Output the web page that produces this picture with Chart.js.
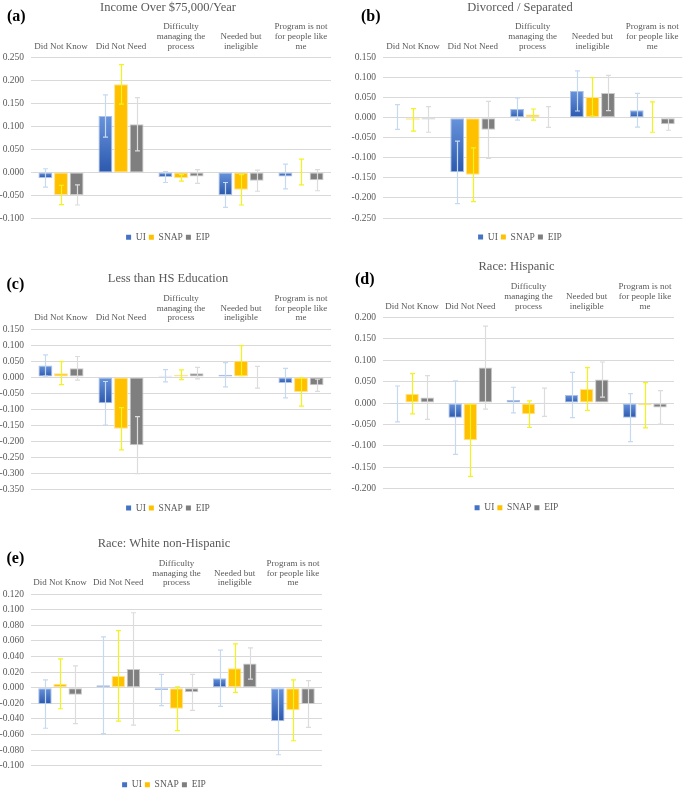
<!DOCTYPE html>
<html>
<head>
<meta charset="utf-8">
<script src="https://cdn.jsdelivr.net/npm/chart.js@4.4.1/dist/chart.umd.min.js"></script>
<style>
  html, body { margin: 0; padding: 0; background: #fff; overflow: hidden; }
  body { position: relative; width: 685px; height: 789px; }
  canvas { position: absolute; }
  .tag { position: absolute; font: bold 16px "Liberation Serif", serif; color: #000; line-height: 16px; }
</style>
</head>
<body>
<script>
const categories = [
  ["Did Not Know"],
  ["Did Not Need"],
  ["Difficulty", "managing the", "process"],
  ["Needed but", "ineligible"],
  ["Program is not", "for people like", "me"]
]
const seriesNames = ["UI", "SNAP", "EIP"]

// (a) Income Over $75,000/Year
const incomeUI = [-0.012, 0.123, -0.010, -0.049, -0.009]
const incomeUIErr = [0.020, 0.046, 0.012, 0.027, 0.027]
const incomeSNAP = [-0.049, 0.192, -0.012, -0.038, 0.001]
const incomeSNAPErr = [0.021, 0.043, 0.007, 0.033, 0.028]
const incomeEIP = [-0.049, 0.105, -0.009, -0.018, -0.017]
const incomeEIPErr = [0.022, 0.058, 0.015, 0.023, 0.023]

// (b) Divorced / Separated
const divorcedUI = [0.002, -0.136, 0.022, 0.067, 0.019]
const divorcedUIErr = [0.031, 0.078, 0.028, 0.050, 0.042]
const divorcedSNAP = [-0.005, -0.142, 0.008, 0.052, 0.002]
const divorcedSNAPErr = [0.028, 0.067, 0.014, 0.048, 0.038]
const divorcedEIP = [-0.004, -0.030, 0.002, 0.062, -0.016]
const divorcedEIPErr = [0.032, 0.071, 0.026, 0.044, 0.015]

// (c) Less than HS Education
const lessHsUI = [0.036, -0.082, 0.004, 0.007, -0.019]
const lessHsUIErr = [0.033, 0.068, 0.019, 0.038, 0.046]
const lessHsSNAP = [0.012, -0.162, 0.007, 0.051, -0.047]
const lessHsSNAPErr = [0.036, 0.066, 0.015, 0.047, 0.044]
const lessHsEIP = [0.027, -0.213, 0.012, -0.001, -0.026]
const lessHsEIPErr = [0.037, 0.089, 0.018, 0.034, 0.019]

// (d) Race: Hispanic
const hispanicUI = [-0.002, -0.034, 0.007, 0.019, -0.034]
const hispanicUIErr = [0.042, 0.086, 0.030, 0.053, 0.056]
const hispanicSNAP = [0.022, -0.087, -0.026, 0.033, -0.005]
const hispanicSNAPErr = [0.047, 0.084, 0.031, 0.050, 0.053]
const hispanicEIP = [0.013, 0.083, 0.002, 0.055, -0.010]
const hispanicEIPErr = [0.051, 0.097, 0.033, 0.041, 0.039]

// (e) Race: White non-Hispanic
const whiteUI = [-0.021, 0.003, -0.003, 0.012, -0.043]
const whiteUIErr = [0.031, 0.062, 0.020, 0.036, 0.043]
const whiteSNAP = [0.005, 0.015, -0.027, 0.025, -0.029]
const whiteSNAPErr = [0.032, 0.058, 0.028, 0.031, 0.039]
const whiteEIP = [-0.009, 0.024, -0.006, 0.031, -0.021]
const whiteEIPErr = [0.037, 0.072, 0.023, 0.020, 0.030]

// axis ranges: [min, max, step]
const incomeTicks = [-0.1, 0.25, 0.05]
const divorcedTicks = [-0.25, 0.15, 0.05]
const lessHsTicks = [-0.35, 0.15, 0.05]
const hispanicTicks = [-0.2, 0.2, 0.05]
const whiteTicks = [-0.1, 0.12, 0.02]

// box = [left, top, width, height] of each canvas; center = x of title and legend inside it
const panels = [
  { tag: "(a)", title: "Income Over $75,000/Year", series: [incomeUI, incomeSNAP, incomeEIP],
    errors: [incomeUIErr, incomeSNAPErr, incomeEIPErr], ticks: incomeTicks,
    box: [0, 0, 340, 256], pad: { left: 0, right: 9, top: 0, bottom: 3.95 }, yWidth: 31, xHeight: 42.7,
    center: 168, tagAt: [7, 8] },
  { tag: "(b)", title: "Divorced / Separated", series: [divorcedUI, divorcedSNAP, divorcedEIP],
    errors: [divorcedUIErr, divorcedSNAPErr, divorcedEIPErr], ticks: divorcedTicks,
    box: [340, 0, 345, 256], pad: { left: 0, right: 2, top: 0, bottom: 4.25 }, yWidth: 43, xHeight: 42.7,
    center: 180, tagAt: [361, 8] },
  { tag: "(c)", title: "Less than HS Education", series: [lessHsUI, lessHsSNAP, lessHsEIP],
    errors: [lessHsUIErr, lessHsSNAPErr, lessHsEIPErr], ticks: lessHsTicks,
    box: [0, 265, 340, 262], pad: { left: 0, right: 9, top: 6.5, bottom: 4.25 }, yWidth: 31, xHeight: 42.5,
    center: 168, tagAt: [6.5, 276] },
  { tag: "(d)", title: "Race: Hispanic", series: [hispanicUI, hispanicSNAP, hispanicEIP],
    errors: [hispanicUIErr, hispanicSNAPErr, hispanicEIPErr], ticks: hispanicTicks,
    box: [340, 255, 345, 272], pad: { left: 0, right: 11, top: 4.5, bottom: 4.55 }, yWidth: 43, xHeight: 43,
    center: 176.5, tagAt: [355, 271] },
  { tag: "(e)", title: "Race: White non-Hispanic", series: [whiteUI, whiteSNAP, whiteEIP],
    errors: [whiteUIErr, whiteSNAPErr, whiteEIPErr], ticks: whiteTicks,
    box: [0, 520, 340, 284], pad: { left: 0, right: 18, top: 16.5, bottom: 4.55 }, yWidth: 31, xHeight: 42.5,
    center: 164, tagAt: [6.5, 549.5] }
]

const fills = ["#4472c4", "#ffc000", "#7f7f7f"]
const edges = ["#a9c1e8", "#ffe38f", "#c9c9c9"]
const whiskers = ["#c5d9f1", "#f2f21c", "#dcdcdc"]

Chart.defaults.font.family = '"Liberation Serif", "Times New Roman", serif'
Chart.defaults.color = "#595959"

// UI bars fade from a lighter blue at the top to a deeper blue at the bottom
function blueFill(ctx) {
  const chart = ctx.chart
  const y = chart.scales && chart.scales.y
  if (!y || ctx.type !== "data") return fills[0]
  const v = ctx.raw
  const top = y.getPixelForValue(Math.max(v, 0))
  const bottom = y.getPixelForValue(Math.min(v, 0))
  if (!isFinite(top) || !isFinite(bottom) || bottom - top < 1) return fills[0]
  const g = chart.ctx.createLinearGradient(0, top, 0, bottom)
  g.addColorStop(0, "#6894dc")
  g.addColorStop(1, "#2c58ae")
  return g
}

const errorBars = {
  id: "errorBars",
  afterDatasetsDraw(chart) {
    const { ctx, scales: { y } } = chart
    chart.data.datasets.forEach((ds, i) => {
      const meta = chart.getDatasetMeta(i)
      meta.data.forEach((bar, j) => {
        const v = ds.data[j]
        const e = ds.errors[j]
        const hi = y.getPixelForValue(v + e)
        const lo = y.getPixelForValue(v - e)
        const x = Math.round(bar.x) + 0.5
        ctx.save()
        ctx.strokeStyle = ds.whiskerColor
        ctx.lineWidth = 1.2
        ctx.beginPath()
        ctx.moveTo(x, hi); ctx.lineTo(x, lo)
        ctx.moveTo(x - 2.5, hi); ctx.lineTo(x + 2.5, hi)
        ctx.moveTo(x - 2.5, lo); ctx.lineTo(x + 2.5, lo)
        ctx.stroke()
        ctx.restore()
      })
    })
  }
}

// the y tick labels get clipped to the axis box, so padding can't be used to
// nudge the title/legend; move those two boxes sideways after layout instead
const centerBlocks = {
  id: "centerBlocks",
  afterLayout(chart, _args, opts) {
    [chart.titleBlock, chart.legend].forEach((b) => {
      if (!b) return
      const dx = opts.x - (b.left + b.right) / 2
      b.left += dx
      b.right += dx
    })
  }
}

function fmt(v) {
  return Math.abs(v) < 1e-9 ? "0.000" : Number(v).toFixed(3)
}

function makePanel(p) {
  const [left, top, width, height] = p.box
  const canvas = document.createElement("canvas")
  canvas.width = width
  canvas.height = height
  Object.assign(canvas.style, { left: left + "px", top: top + "px", width: width + "px", height: height + "px" })
  document.body.appendChild(canvas)

  const tag = document.createElement("div")
  tag.className = "tag"
  tag.textContent = p.tag
  tag.style.left = p.tagAt[0] + "px"
  tag.style.top = p.tagAt[1] + "px"
  document.body.appendChild(tag)

  const datasets = seriesNames.map((name, i) => ({
    label: name,
    data: p.series[i],
    errors: p.errors[i],
    whiskerColor: whiskers[i],
    backgroundColor: i === 0 ? blueFill : fills[i],
    borderColor: edges[i],
    borderWidth: 1,
    borderSkipped: false,
    categoryPercentage: 0.78,
    barPercentage: 0.89
  }))

  const [min, max, step] = p.ticks

  return new Chart(canvas, {
    type: "bar",
    data: { labels: categories, datasets },
    options: {
      responsive: false,
      animation: false,
      layout: { padding: p.pad },
      plugins: {
        centerBlocks: { x: p.center },
        title: {
          display: true,
          text: p.title,
          color: "#595959",
          font: { size: 12.5, weight: "normal", lineHeight: 1.2 },
          padding: { top: 0, bottom: 0 }
        },
        legend: {
          position: "bottom",
          title: { display: true, text: "", font: { size: 1 }, padding: { top: 10.05, bottom: 0 } },
          labels: {
            boxWidth: 5,
            boxHeight: 5,
            padding: 3,
            color: "#595959",
            font: { size: 9.5 },
            generateLabels: () => seriesNames.map((name, i) => ({
              text: name, fillStyle: fills[i], strokeStyle: fills[i], lineWidth: 0, datasetIndex: i
            }))
          }
        },
        tooltip: { enabled: false }
      },
      scales: {
        x: {
          position: "top",
          grid: { display: false, drawTicks: false },
          border: { display: false },
          ticks: { padding: 6, maxRotation: 0, autoSkip: false, font: { size: 9, lineHeight: 1.1 } },
          afterFit: (s) => { s.height = p.xHeight }
        },
        y: {
          min, max,
          grid: { color: "#d9d9d9", drawTicks: false },
          border: { display: false },
          ticks: { stepSize: step, padding: 7, font: { size: 9.5 }, callback: fmt },
          afterFit: (s) => { s.width = p.yWidth }
        }
      }
    },
    plugins: [errorBars, centerBlocks]
  })
}

panels.forEach(makePanel)
</script>
</body>
</html>
